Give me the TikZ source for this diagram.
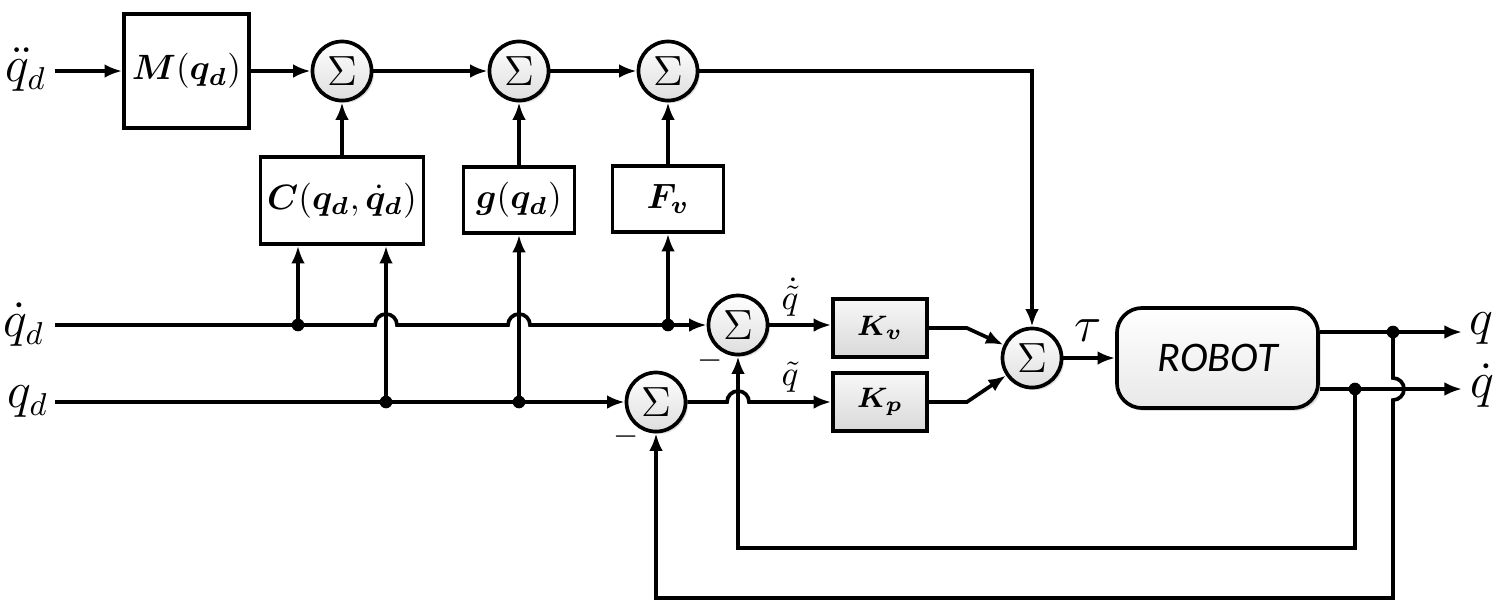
\documentclass[tikz,border=0pt]{standalone}
\usepackage{amsmath,bm}
\usepackage{fontspec}
\newfontfamily\robotfont{Carlito}
\usetikzlibrary{arrows.meta,shadows,calc}
\begin{document}
\begin{tikzpicture}[x=0.01cm,y=-0.01cm,line width=1.05pt,
  >={Latex[length=5pt,width=3.9pt]},
  sumnode/.style={circle,draw,line width=1.05pt,minimum size=0.59cm,inner sep=0pt,
    top color=white,bottom color=black!13,
    drop shadow={opacity=0.25,shadow xshift=0.7pt,shadow yshift=-0.7pt},
    font=\fontsize{12.5}{14}\selectfont},
  blk/.style={draw,fill=white,inner sep=0pt,font=\fontsize{10.3}{12}\selectfont},
  gain/.style={draw,top color=black!3,bottom color=black!15,inner sep=0pt,
    minimum width=0.94cm,minimum height=0.58cm,font=\fontsize{8.5}{10}\selectfont},
  robotbox/.style={draw,rounded corners=0.25cm,top color=white,bottom color=black!9,
    minimum width=2.01cm,minimum height=1.0cm,inner sep=0pt,
    drop shadow={opacity=0.25,shadow xshift=0.8pt,shadow yshift=-0.8pt},
    font=\fontsize{12}{13}\selectfont},
  lbl/.style={inner sep=0pt,font=\fontsize{13.5}{16}\selectfont},
  slbl/.style={inner sep=0pt,font=\fontsize{10}{12}\selectfont},
  junction/.style={circle,fill,inner sep=0pt,minimum size=3.6pt}]
\fill[white] (0,0) rectangle (1498,608);
\useasboundingbox (0,0) rectangle (1498,608);

% ---- top row
\node[lbl] (qdd) at (26,70) {$\ddot q_d$};
\coordinate (qddin) at (55,71);
\node[blk,minimum width=1.25cm,minimum height=1.14cm] (M) at (186.5,71) {$\bm{M}(\bm{q_d})$};
\node[sumnode] (S1) at (342,71) {$\Sigma$};
\node[sumnode] (S2) at (519,71) {$\Sigma$};
\node[sumnode] (S3) at (668,71) {$\Sigma$};
\node[blk,minimum width=1.63cm,minimum height=0.87cm] (C) at (342,200.5) {$\bm{C}(\bm{q_d},\bm{\dot q_d})$};
\node[blk,minimum width=1.11cm,minimum height=0.66cm] (G) at (519,200) {$\bm{g}(\bm{q_d})$};
\node[blk,minimum width=1.11cm,minimum height=0.66cm] (F) at (668,199) {$\bm{F_v}$};

\draw[->] (qddin) -- (M.west);
\draw[->] (M.east) -- (S1.west);
\draw[->] (S1.east) -- (S2.west);
\draw[->] (S2.east) -- (S3.west);
\draw[->] (C.north) -- (S1.south);
\draw[->] (G.north) -- (S2.south);
\draw[->] (F.north) -- (S3.south);

% ---- middle/lower sums and gains
\node[sumnode] (S4) at (738,325) {$\Sigma$};
\node[sumnode] (S6) at (656,402) {$\Sigma$};
\node[sumnode] (S5) at (1032,358) {$\Sigma$};
\node[gain] (Kv) at (880,328) {$\bm{K_v}$};
\node[gain] (Kp) at (880,402) {$\bm{K_p}$};
\node[robotbox] (R) at (1217.5,358) {\robotfont\itshape ROBOT};

\draw[->] (S3.east) -| (S5.north);

% q_dot_d line
\node[lbl] (qd1) at (24,325) {$\dot q_d$};
\coordinate (qdin) at (55,325);
\node[junction] (d1) at (298,325) {};
\node[junction] (d2) at (668,325) {};
\draw[->] (qdin) -- (375,325) arc[start angle=180,end angle=0,radius=1.1mm]
  -- (508,325) arc[start angle=180,end angle=0,radius=1.1mm] -- (S4.west);
\draw[->] (d1.center) -- (d1.center |- C.south);
\draw[->] (d2.center) -- (d2.center |- F.south);

% q_d line
\node[lbl] (qd0) at (28,402) {$q_d$};
\coordinate (qin) at (55,402);
\node[junction] (d3) at (386,402) {};
\node[junction] (d4) at (519,402) {};
\draw[->] (qin) -- (S6.west);
\draw[->] (d3.center) -- (d3.center |- C.south);
\draw[->] (d4.center) -- (d4.center |- G.south);

% errors to gains
\draw[->] (S4.east) -- (S4.east -| Kv.west);
\draw[->] (S6.east) -- (727,402) arc[start angle=180,end angle=0,radius=1.1mm] -- (Kp.west);
\node[slbl] (ev) at (790,297) {$\dot{\tilde q}$};
\node[slbl] (ep) at (790,377) {$\tilde q$};
\node[slbl,font=\fontsize{9}{10}\selectfont] (m1) at (710,361) {$-$};
\node[slbl,font=\fontsize{9}{10}\selectfont] (m2) at (626,437) {$-$};

% gains to torque sum
\draw[->] (Kv.east) -- ++(38,0) -- (S5);
\draw[->] (Kp.east) -- ++(38,0) -- (S5);
\node[lbl] (tau) at (1088,331) {$\tau$};
\draw[->] (S5.east) -- (R.west);

% outputs
\coordinate (qout) at (1462,332);
\coordinate (qdout) at (1462,389);
\draw[->] (R.east |- qout) -- (qout);
\draw[->] (R.east |- qdout) -- (qdout);
\node[lbl] (ql) at (1481,329) {$q$};
\node[lbl] (qdl) at (1482,386) {$\dot q$};
\node[junction] (e1) at (1393,332) {};
\node[junction] (e2) at (1355,389) {};

% feedback
\draw[->] (e1.center) -- (1393,378) arc[start angle=90,end angle=-90,radius=1.1mm]
  -- (1393,598) -| (S6.south);
\draw[->] (e2.center) -- (1355,548) -| (S4.south);
\end{tikzpicture}
\end{document}
